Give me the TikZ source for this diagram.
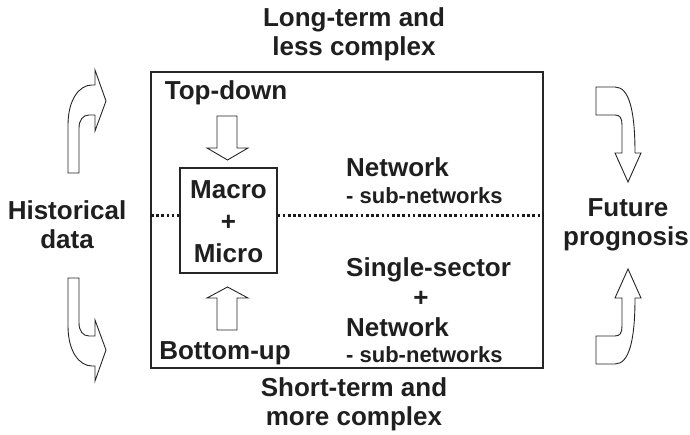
\documentclass[tikz,border=0pt]{standalone}
\usepackage{fontspec}
\setmainfont{Liberation Sans}
\begin{document}
\begin{tikzpicture}[x=1pt,y=-1pt,
  ink/.style={draw=black!85, line width=1.1pt},
  lbl/.style={font=\bfseries\fontsize{26}{29}\selectfont, text=black!88, inner sep=0pt, anchor=base},
  lbll/.style={lbl, anchor=base west},
  sml/.style={font=\bfseries\fontsize{22}{25}\selectfont, text=black!88, inner sep=0pt, anchor=base west},
  shapearrow/.style={draw=black!85, line width=0.9pt, fill=white, line join=miter},
  divider/.style={draw=black!90, line width=3pt, dash pattern=on 2.6pt off 2.6pt}]
% page
\useasboundingbox (0,0) rectangle (690,435);

% outer frame and the Macro + Micro box
\node[ink, minimum width=392pt, minimum height=296pt, inner sep=0pt] (frame) at (347,220) {};
\node[ink, fill=white, minimum width=97pt, minimum height=105pt, inner sep=0pt] (mm) at (228.5,220.5) {};

% dotted divider between the two horizons
\coordinate (dl) at (151,216);
\coordinate (dr) at (544,216);
\draw[divider] (dl) -- (dl -| mm.west);
\draw[divider] (mm.east |- dr) -- (dr);

% headings above and below the frame
\node[lbl] (lt1) at (354,26.5) {Long-term and};
\node[lbl] (lt2) at (354,55.5) {less complex};
\node[lbl] (st1) at (354,396) {Short-term and};
\node[lbl] (st2) at (354,425) {more complex};

% side labels
\node[lbl] (hd1) at (67,220) {Historical};
\node[lbl] (hd2) at (67,249) {data};
\node[lbl] (fp1) at (628,217) {Future};
\node[lbl] (fp2) at (626,246) {prognosis};

% approaches
\node[lbl] (td) at (226,100) {Top-down};
\node[lbl] (bu) at (225,359) {Bottom-up};
\node[lbl] (ma) at (228.5,199) {Macro};
\node[lbl] (pl) at (228.5,231) {+};
\node[lbl] (mi) at (228.5,263) {Micro};

% model scopes
\node[lbll] (nw1) at (346,177) {Network};
\node[sml]  (sn1) at (346,204) {- sub-networks};
\node[lbll] (ss)  at (346,277) {Single-sector};
\node[lbl]  (pl2) at (421,306) {+};
\node[lbll] (nw2) at (346,336) {Network};
\node[sml]  (sn2) at (346,362) {- sub-networks};

% block arrows into the Macro + Micro box
\draw[shapearrow] (217,116) -- (237,116) -- (237,148) -- (248,148) -- (227.5,160)
  -- (207,148) -- (217,148) -- cycle;
\draw[shapearrow] (217,330) -- (237,330) -- (237,298) -- (248,298) -- (227.5,287)
  -- (207,298) -- (217,298) -- cycle;

% curved arrows leaving the historical data
\draw[shapearrow] (68,173) -- (68,125) .. controls (68,100) and (79,85) .. (92,85)
  -- (95,85) -- (95,70) -- (106,101) -- (95,131) -- (95,115) -- (89,115)
  .. controls (83,115) and (79,120) .. (79,128) -- (79,173) -- cycle;
\draw[shapearrow] (68,278) -- (68,326) .. controls (68,351) and (79,366) .. (92,366)
  -- (95,366) -- (95,381) -- (106,350) -- (95,320) -- (95,336) -- (89,336)
  .. controls (83,336) and (79,331) .. (79,323) -- (79,278) -- cycle;

% curved arrows into the future prognosis
\draw[shapearrow] (596,87) -- (615,87) .. controls (629,87) and (635,110) .. (635,153)
  -- (641,153) -- (628,182) -- (615,153) -- (622,153) -- (622,125)
  .. controls (622,118) and (620,115) .. (615,115) -- (596,115) -- cycle;
\draw[shapearrow] (596,364) -- (615,364) .. controls (629,364) and (635,341) .. (635,298)
  -- (641,298) -- (628,269) -- (615,298) -- (622,298) -- (622,326)
  .. controls (622,333) and (620,336) .. (615,336) -- (596,336) -- cycle;
\end{tikzpicture}
\end{document}
